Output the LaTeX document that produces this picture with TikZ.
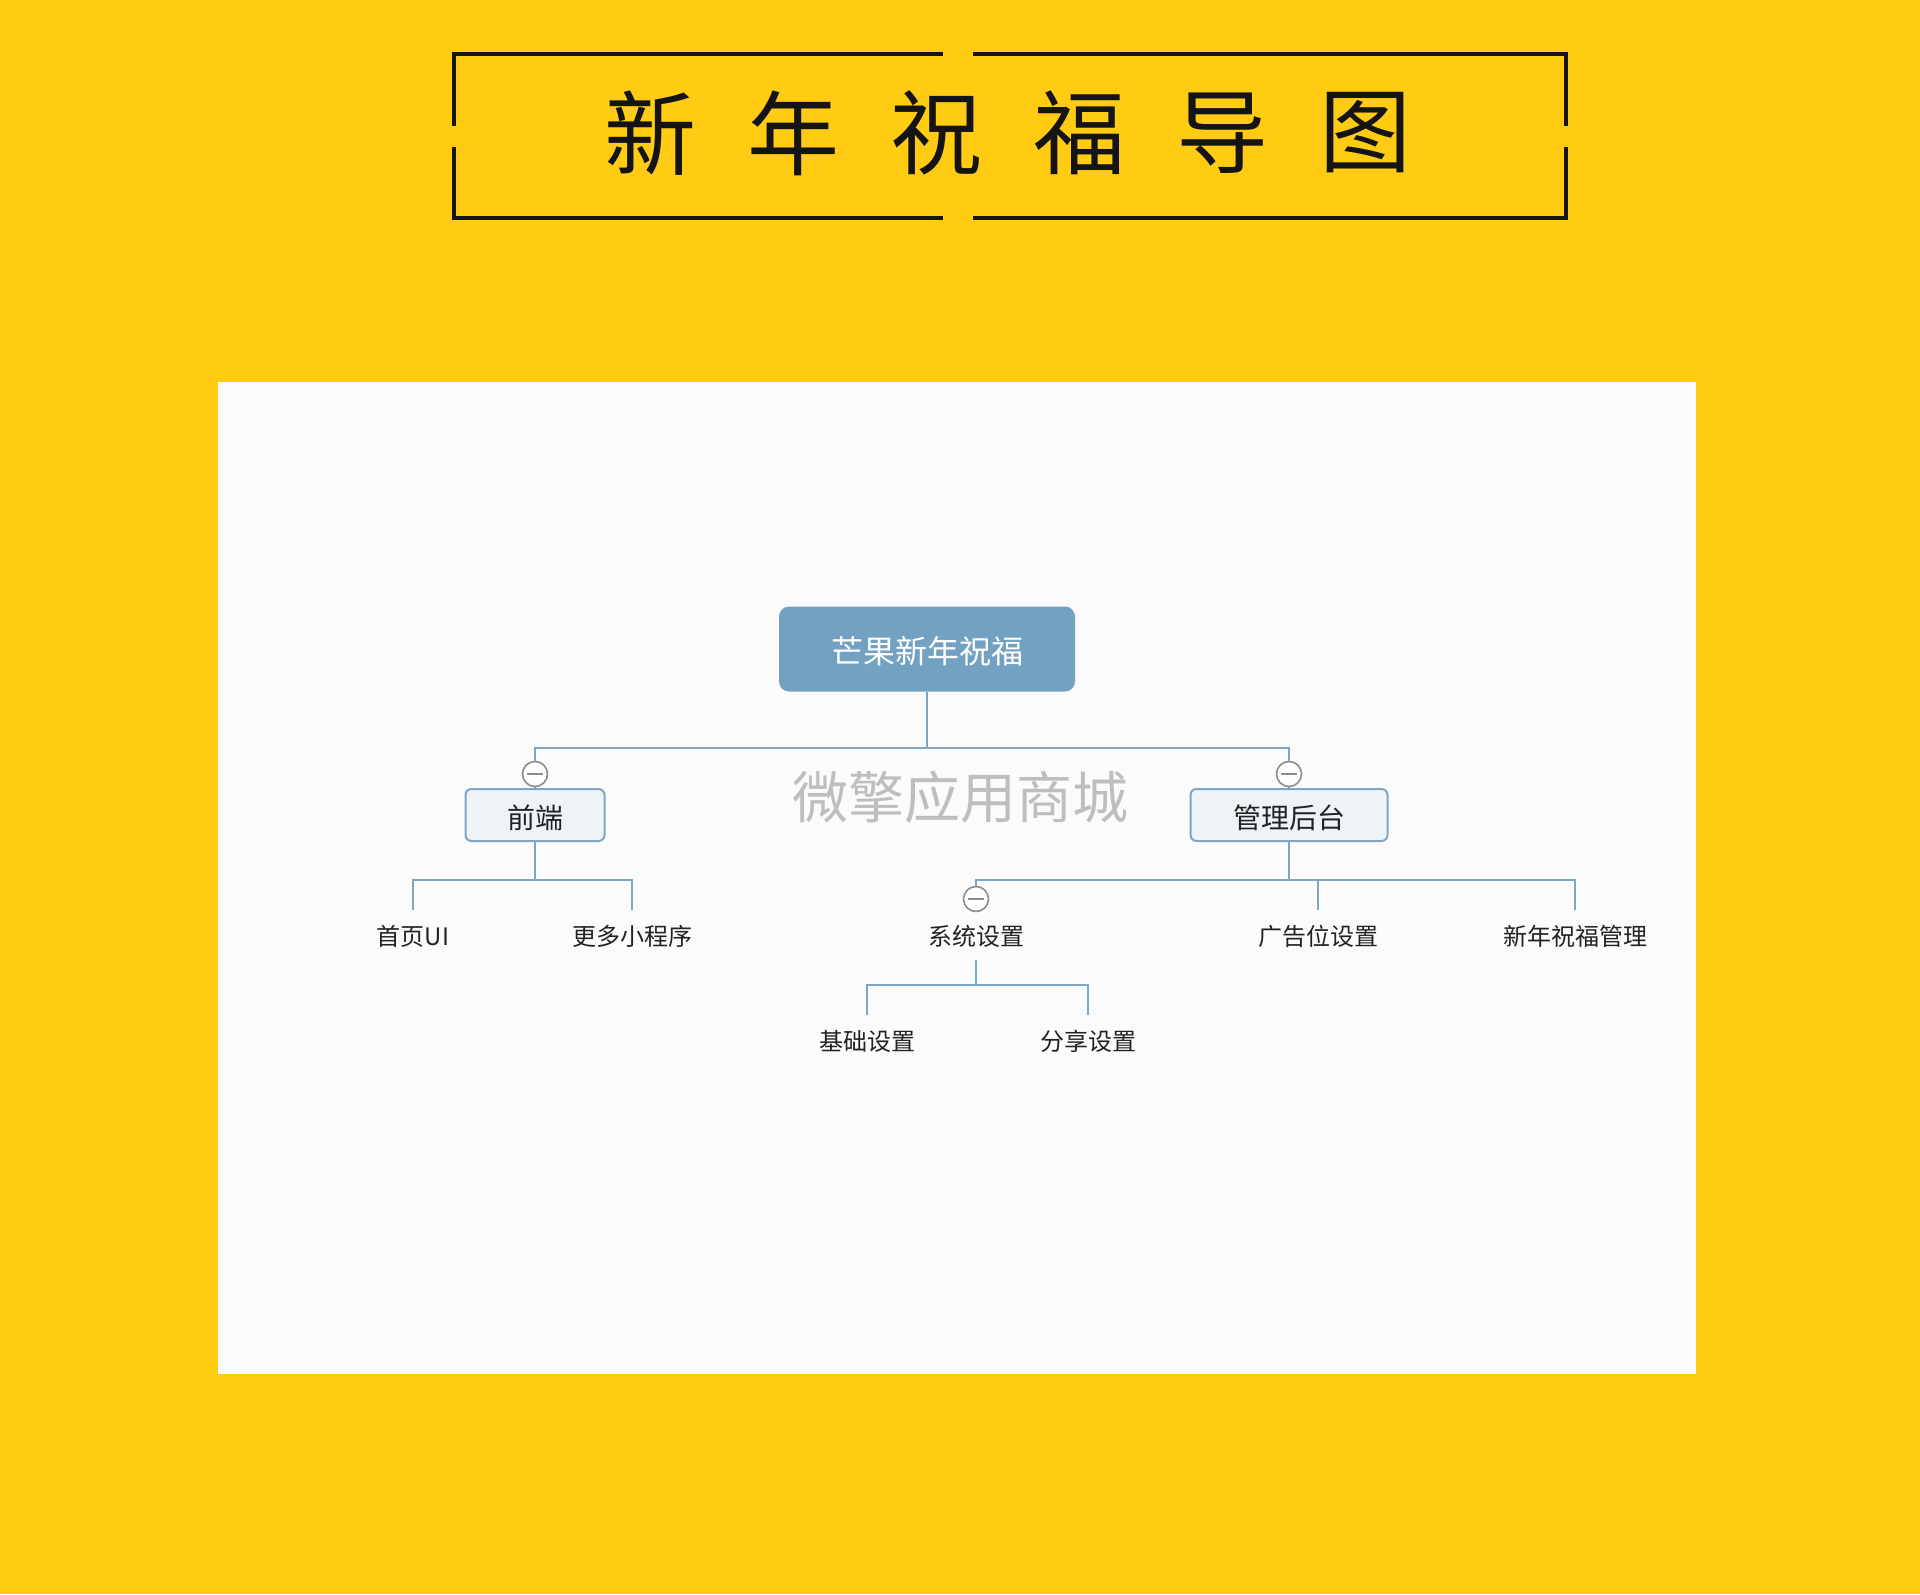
\documentclass[tikz,border=0pt]{standalone}
\usepackage{fontspec}
\setmainfont{Noto Sans CJK SC}
\definecolor{bgyellow}{HTML}{FFCB13}
\definecolor{panelbg}{HTML}{FBFBFB}
\definecolor{rootblue}{HTML}{73A1C2}
\definecolor{linecol}{HTML}{7FA7C5}
\definecolor{boxfill}{HTML}{EEF3F7}
\definecolor{framecol}{HTML}{141414}
\definecolor{markgray}{HTML}{8C8C8C}
\definecolor{wmgray}{HTML}{BEBEBE}
\definecolor{textcol}{HTML}{222222}
\begin{document}
\begin{tikzpicture}[x=0.5pt,y=-0.5pt,
  frame/.style={draw=framecol,line width=2pt},
  titlechar/.style={font=\fontsize{46pt}{50pt}\selectfont,text=framecol,inner sep=0},
  rootbox/.style={rounded corners=5pt,fill=rootblue,text=white,
    font=\fontsize{16pt}{18pt}\selectfont,minimum height=42.5pt,inner sep=0,
    text height=14pt,text depth=0pt},
  branchbox/.style={draw=linecol,fill=boxfill,rounded corners=3pt,line width=1pt,
    text=textcol,font=\fontsize{14pt}{16pt}\selectfont,minimum height=26pt,inner sep=0,
    text height=13pt,text depth=0pt},
  leaf/.style={text=textcol,font=\fontsize{12pt}{14pt}\selectfont,
    text height=11pt,text depth=1pt,inner xsep=0pt,inner ysep=6.5pt},
  collapse/.style={circle,draw=markgray,fill=white,line width=0.8pt,
    minimum size=12.5pt,inner sep=0,
    path picture={\draw[markgray,line width=0.8pt]
      ([xshift=-4.2pt]path picture bounding box.center) --
      ([xshift=4.2pt]path picture bounding box.center);}},
  conn/.style={draw=linecol,line width=1pt},
  watermark/.style={text=wmgray,font=\fontsize{28pt}{30pt}\selectfont,inner sep=0}]
\useasboundingbox (0,0) rectangle (1920,1594);
\fill[bgyellow] (0,0) rectangle (1920,1594);

% title frame
\draw[frame] (454,126) -- (454,54) -- (943,54);
\draw[frame] (973,54) -- (1566,54) -- (1566,126);
\draw[frame] (454,147) -- (454,218) -- (943,218);
\draw[frame] (973,218) -- (1566,218) -- (1566,147);
\node[titlechar] (t1) at (650,133) {新};
\node[titlechar] (t2) at (793,133) {年};
\node[titlechar] (t3) at (936,133) {祝};
\node[titlechar] (t4) at (1079,133) {福};
\node[titlechar] (t5) at (1222,133) {导};
\node[titlechar] (t6) at (1365,133) {图};

% panel
\fill[panelbg] (218,382) rectangle (1696,1374);

% watermark
\node[watermark] (wm) at (960,797) {微擎应用商城};

% nodes
\node[rootbox,minimum width=148pt] (root) at (927,649) {芒果新年祝福};
\node[collapse] (cfe) at (535,774) {};
\node[collapse] (cbe) at (1289,774) {};
\node[branchbox,minimum width=69.5pt] (fe) at (535,815) {前端};
\node[branchbox,minimum width=98.5pt] (be) at (1289,815) {管理后台};

\node[leaf] (l1) at (413,935) {首页UI};
\node[leaf] (l2) at (632,935) {更多小程序};
\node[collapse] (csys) at (976,899) {};
\node[leaf] (sys) at (976,935) {系统设置};
\node[leaf] (l4) at (1318,935) {广告位设置};
\node[leaf] (l5) at (1575,935) {新年祝福管理};
\node[leaf] (l6) at (867,1040) {基础设置};
\node[leaf] (l7) at (1088,1040) {分享设置};

\coordinate (j0) at (927,748);
\coordinate (j1) at (535,880);
\coordinate (j2) at (1289,880);
\coordinate (j3) at (976,985);

% connectors
\draw[conn] (root.south) -- (j0);
\draw[conn] (cfe.north) |- (j0) -| (cbe.north);
\draw[conn] (cfe.south) -- (fe.north);
\draw[conn] (cbe.south) -- (be.north);
\draw[conn] (fe.south) -- (j1);
\draw[conn] (l1.north) |- (j1) -| (l2.north);
\draw[conn] (be.south) -- (j2);
\draw[conn] (csys.north) |- (j2) -| (l5.north);
\draw[conn] (l4.north) -- (l4.north |- j2);
\draw[conn] (csys.south) -- (sys.north);
\draw[conn] (sys.south) -- (j3);
\draw[conn] (l6.north) |- (j3) -| (l7.north);
\end{tikzpicture}
\end{document}
